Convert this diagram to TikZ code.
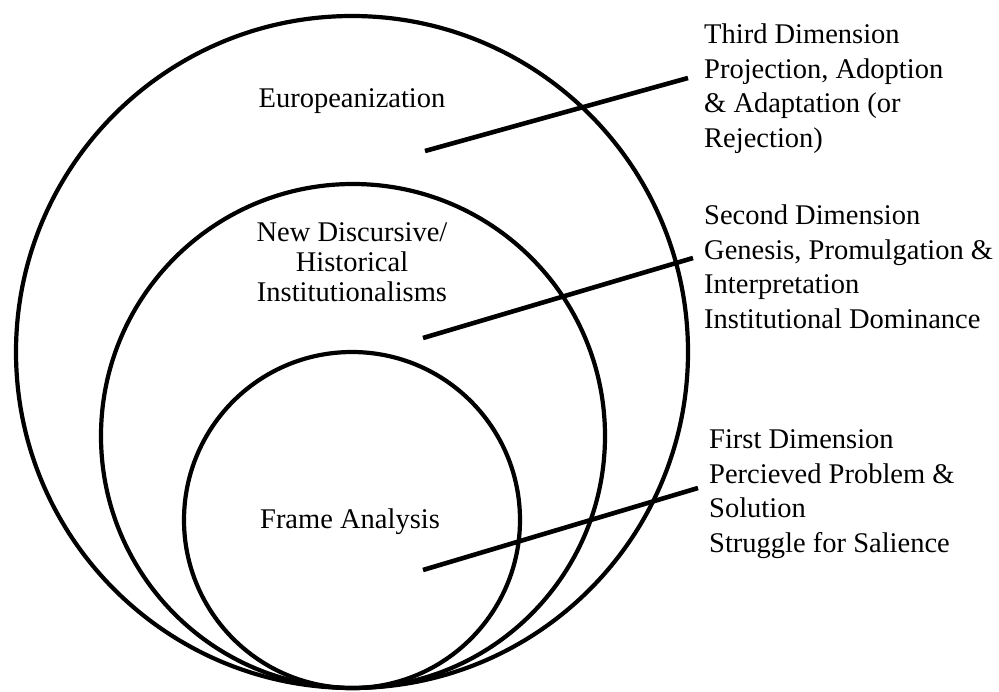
\documentclass[tikz,border=0pt]{standalone}
\usepackage{fontspec}
\setmainfont{Liberation Serif}
\begin{document}
\begin{tikzpicture}[x=1pt,y=-1pt,
  ring/.style={line width=4.2pt},
  leader/.style={line width=4.6pt},
  inlabel/.style={align=center,anchor=base,inner sep=0pt,font=\fontsize{28.5}{30}\selectfont},
  sidelabel/.style={align=left,anchor=base west,inner sep=0pt,font=\fontsize{28.5}{34.5}\selectfont}]
\useasboundingbox (0,0) rectangle (999,691);
\draw[ring] (352,352) circle (336pt);
\draw[ring] (353,436) circle (252pt);
\draw[ring] (352,520) circle (168pt);
\node[inlabel] (euro) at (352,107) {Europeanization};
\node[inlabel] (newdi) at (352,301) {New Discursive/\\Historical\\Institutionalisms};
\node[inlabel] (frame) at (350,528) {Frame Analysis};
\node[sidelabel] (third) at (704,147) {Third Dimension\\Projection, Adoption\\\& Adaptation (or\\Rejection)};
\node[sidelabel] (second) at (704,328) {Second Dimension\\Genesis, Promulgation \&\\Interpretation\\Institutional Dominance};
\node[sidelabel] (first) at (709,552) {First Dimension\\Percieved Problem \&\\Solution\\Struggle for Salience};
\coordinate (s3) at (425,151);
\coordinate (e3) at (688,78);
\coordinate (s2) at (423,338);
\coordinate (e2) at (693,258);
\coordinate (s1) at (423,570);
\coordinate (e1) at (698,488);
\draw[leader] (s3) -- (e3);
\draw[leader] (s2) -- (e2);
\draw[leader] (s1) -- (e1);
\end{tikzpicture}
\end{document}
